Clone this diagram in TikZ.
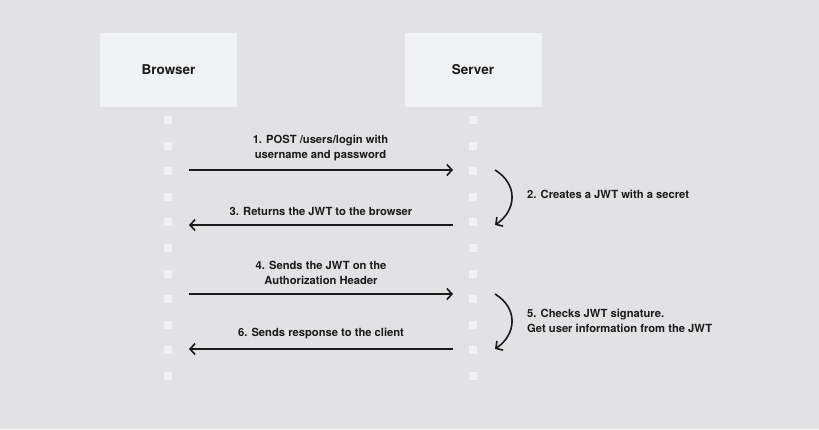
\documentclass[tikz,border=0pt]{standalone}
\usepackage{fontspec}
\setmainfont{TeX Gyre Heros}
\usetikzlibrary{arrows.meta}
\definecolor{bgc}{HTML}{E2E2E4}
\definecolor{boxc}{HTML}{F1F2F4}
\definecolor{sqc}{HTML}{F2F2F4}
\definecolor{ink}{HTML}{1A1A1A}
\tikzset{
  actor/.style={fill=boxc, draw=none, minimum width=137pt, minimum height=74pt, inner sep=0pt, font=\fontsize{13.5}{15}\selectfont\bfseries, text=ink},
  sq/.style={fill=sqc, draw=none, minimum size=8pt, inner sep=0pt},
  msg/.style={draw=ink, line width=1.6pt, -{Straight Barb[length=5pt,width=11pt,line width=1.6pt]}},
  lbl/.style={font=\fontsize{11.2}{15}\selectfont\bfseries, text=ink, align=center, inner sep=0pt},
  note/.style={font=\fontsize{11.2}{15}\selectfont\bfseries, text=ink, align=left, anchor=west, inner sep=0pt},
}
\begin{document}
\begin{tikzpicture}[x=1pt,y=-1pt]
\fill[bgc] (0,0) rectangle (819,429);
\useasboundingbox (0,0) rectangle (819,429);
\node[actor] (browser) at (168.5,70) {Browser};
\node[actor] (server) at (473,70) {Server};
\foreach \i [count=\k] in {120,145.6,171.2,196.8,222.4,248,273.6,299.2,324.8,350.4,376} {
  \node[sq] (b\k) at (168,\i) {};
  \node[sq] (s\k) at (473,\i) {};
}
\coordinate (a1s) at (189,170);
\coordinate (a1e) at (453,170);
\coordinate (a3s) at (453,225);
\coordinate (a3e) at (189,225);
\coordinate (a4s) at (189,294);
\coordinate (a4e) at (453,294);
\coordinate (a6s) at (453,349);
\coordinate (a6e) at (189,349);
\draw[msg] (a1s) -- (a1e);
\draw[msg] (a3s) -- (a3e);
\draw[msg] (a4s) -- (a4e);
\draw[msg] (a6s) -- (a6e);
\node[lbl] (l1) at (320.5,148.5) {1. POST /users/login with\\username and password};
\node[lbl] (l3) at (321,211) {3. Returns the JWT to the browser};
\node[lbl] (l4) at (321,272.5) {4. Sends the JWT on the\\Authorization Header};
\node[lbl] (l6) at (321,334) {6. Sends response to the client};
\coordinate (c1s) at (495,170);
\coordinate (c1e) at (495,225);
\coordinate (c2s) at (495,294);
\coordinate (c2e) at (495,349);
\draw[msg] (c1s) .. controls (518,184) and (517,210) .. (c1e);
\draw[msg] (c2s) .. controls (518,308) and (517,334) .. (c2e);
\node[note] (n2) at (527,194) {2. Creates a JWT with a secret};
\node[note] (n5) at (527,321) {5. Checks JWT signature.\\Get user information from the JWT};
\end{tikzpicture}
\end{document}
